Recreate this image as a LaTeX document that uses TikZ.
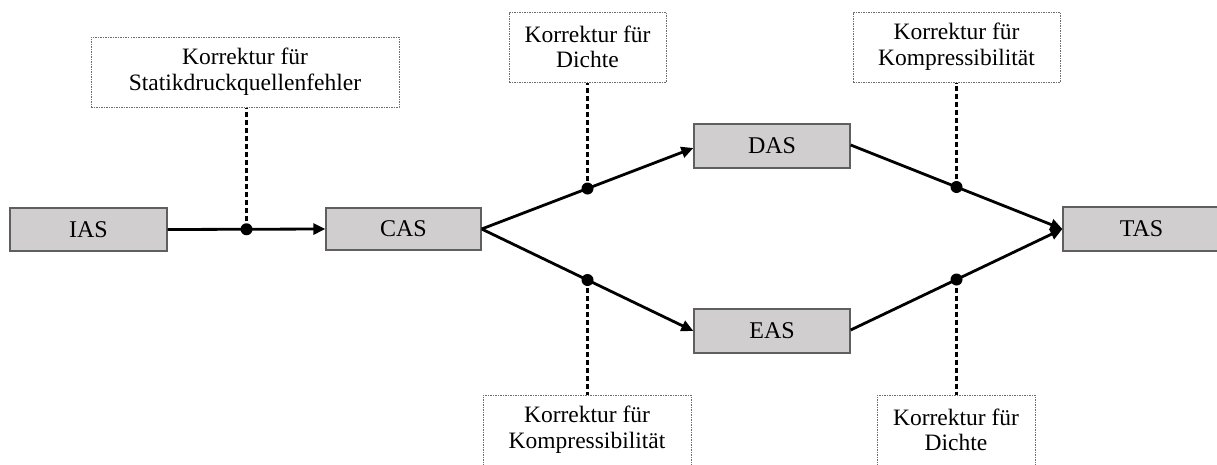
\documentclass[tikz,border=0pt]{standalone}
\usepackage{fontspec}
\setmainfont{Liberation Serif}
\usetikzlibrary{arrows.meta}
\definecolor{boxfill}{RGB}{208,206,207}
\definecolor{boxline}{RGB}{95,95,95}
\definecolor{dotline}{RGB}{110,110,110}
\tikzset{
  speedbox/.style={draw=boxline, line width=1.3pt, fill=boxfill, inner sep=0pt,
    minimum width=156pt, minimum height=44pt, font=\fontsize{24}{25.6}\selectfont},
  corrbox/.style={draw=dotline, line width=1pt, dash pattern=on 1.5pt off 1pt,
    inner sep=0pt, minimum height=70pt, align=center, font=\fontsize{23.5}{25.6}\selectfont},
  mainarrow/.style={line width=2.8pt, -{Triangle[length=12pt,width=11pt]}},
  corrline/.style={line width=2.2pt, dash pattern=on 5pt off 3pt},
  joint/.style={circle, fill=black, inner sep=0pt, minimum size=12pt}
}
\begin{document}
\begin{tikzpicture}[x=1pt,y=-1pt]
\clip (0,0) rectangle (1217,464);
% speed boxes
\node[speedbox, minimum width=157pt, minimum height=43pt] (ias) at (88.5,229.5) {IAS};
\node[speedbox, minimum width=155pt, minimum height=42pt] (cas) at (403.5,229) {CAS};
\node[speedbox] (das) at (772,146) {DAS};
\node[speedbox] (eas) at (772,331) {EAS};
\node[speedbox, minimum width=157pt] (tas) at (1141.5,229) {TAS};
% correction boxes
\node[corrbox, minimum width=308pt] (k1) at (245,72) {Korrektur für\\Statikdruckquellenfehler};
\node[corrbox, minimum width=157pt] (k2) at (587.5,47) {Korrektur für\\Dichte};
\node[corrbox, minimum width=208pt] (k3) at (587,430) {Korrektur für\\Kompressibilität};
\node[corrbox, minimum width=207pt] (k4) at (956.5,47) {Korrektur für\\Kompressibilität};
\node[corrbox, minimum width=158pt] (k5) at (956,430) {Korrektur für\\Dichte};
% main arrows
\draw[mainarrow] (ias.east) -- coordinate[pos=0.5] (c1) (cas.west);
\draw[mainarrow] (cas.east) -- coordinate[pos=0.5] (c2) ([yshift=-2pt]das.west);
\draw[mainarrow] (cas.east) -- coordinate[pos=0.5] (c3) (eas.west);
\draw[mainarrow] ([yshift=1pt]das.east) -- coordinate[pos=0.5] (c4) (tas.west);
\draw[mainarrow] ([yshift=1pt]eas.east) -- coordinate[pos=0.5] (c5) (tas.west);
% dashed correction lines
\draw[corrline] (c1) -- (c1 |- k1.south);
\draw[corrline] (c2) -- (c2 |- k2.south);
\draw[corrline] (c3) -- (c3 |- k3.north);
\draw[corrline] (c4) -- (c4 |- k4.south);
\draw[corrline] (c5) -- (c5 |- k5.north);
% joints
\node[joint] (j1) at (c1) {};
\node[joint] (j2) at (c2) {};
\node[joint] (j3) at (c3) {};
\node[joint] (j4) at (c4) {};
\node[joint] (j5) at (c5) {};
\end{tikzpicture}
\end{document}
